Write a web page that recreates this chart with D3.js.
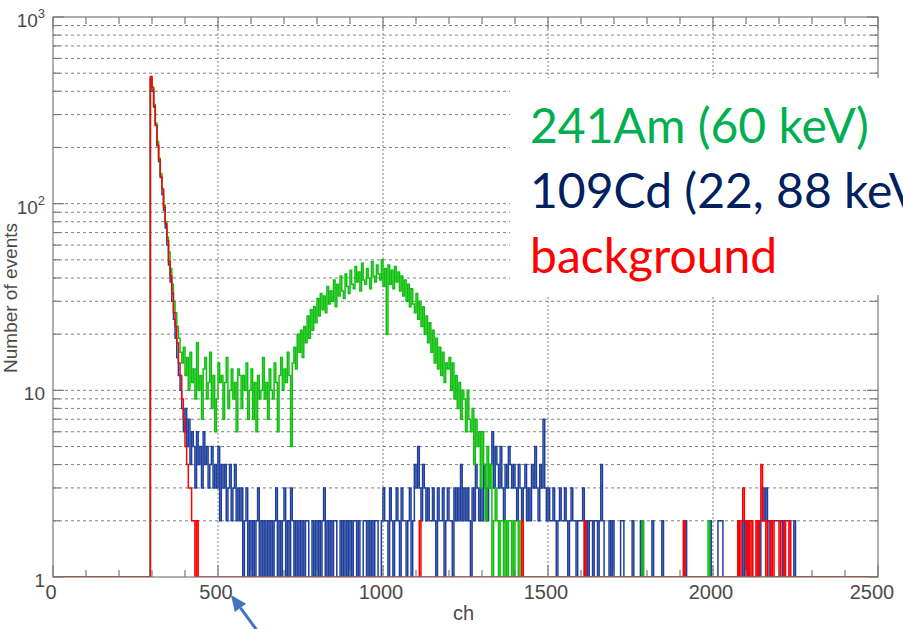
<!DOCTYPE html>
<html>
<head>
<meta charset="utf-8">
<script src="https://cdn.jsdelivr.net/npm/d3@7"></script>
<style>
  html, body { margin: 0; padding: 0; background: #fff; overflow: hidden; }
  svg { display: block; }
</style>
</head>
<body>
<svg id="chart" width="903" height="629"></svg>
<script>
// ---- Spectrum data: counts per 5-channel bin ----
const binWidth = 5;
const chMax = 2500;

// 109Cd source (22, 88 keV), bins from channel 295
const cdStart = 295;
const cdCounts = [
  460,400,330,265,205,168,138,112,92,74,
  60,47,38,30,24,19,15,12,10,8,
  6,8,5,7,4,6,5,3,6,4,
  5,3,6,4,5,3,4,5,3,4,
  3,5,2,4,3,4,2,3,4,2,
  3,4,2,3,2,3,1,2,3,0,
  2,1,2,0,2,3,1,2,0,2,
  1,2,0,2,1,2,3,0,2,1,
  2,3,1,2,0,3,2,1,2,0,
  2,1,2,0,2,2,1,0,2,1,
  2,0,2,1,2,3,1,2,0,2,
  1,2,2,0,1,2,0,2,1,2,
  0,2,1,2,2,0,2,1,0,2,
  2,1,2,0,2,1,2,2,0,1,
  2,3,2,2,1,3,2,0,2,3,
  2,1,3,2,2,0,2,3,1,2,
  4,3,5,3,2,4,3,2,3,2,
  2,3,2,1,3,2,2,3,0,2,
  3,2,2,1,3,2,3,2,4,2,
  3,2,3,2,1,3,2,4,3,2,
  3,2,4,3,2,3,4,6,3,5,
  4,3,5,3,2,4,3,5,4,3,
  4,3,2,4,3,2,3,4,2,3,
  2,4,3,5,3,2,4,3,7,3,
  2,3,2,2,3,2,1,2,3,2,
  2,3,2,1,2,3,2,2,1,2,
  2,2,3,1,2,0,2,2,1,2,
  2,1,2,4,2,0,1,0,2,0,
  2,0,0,1,0,2,2,0,0,1,
  0,0,2,0,1,0,0,2,0,0,
  0,1,0,0,2,0,0,1,0,0,
  2,0,0,0,1,0,0,0,0,0,
  0,1,0,0,2,0,0,0,1,0,
  0,0,0,1,0,0,0,0,0,2,
  0,0,1,0,2,2,2,0,1,0,
  0,0,1,0,0,0,2,0,0,2,
  0,2,0,2,2,0,0,0,2,0,
  2,3,2,3,2,0,2,2,2,2,
  2,2,2,0,2,2,2,2,0,0,
  2,0,0
];

// 241Am source (60 keV), bins from channel 295
const amStart = 295;
const amCounts = [
  470,410,340,270,215,175,145,118,98,80,
  66,55,45,37,30,26,22,19,16,14,
  17,12,15,10,16,11,13,9,18,10,
  12,7,13,15,9,11,16,8,12,6,
  9,14,11,12,7,11,15,8,10,13,
  9,11,6,13,12,8,12,10,14,7,
  10,13,7,11,6,12,9,10,15,9,
  11,7,13,10,9,14,11,6,12,15,
  10,13,11,16,12,5,14,17,13,20,
  16,21,15,22,18,25,19,27,21,28,
  23,31,25,33,27,32,26,36,29,34,
  30,39,28,37,32,41,34,31,42,36,
  33,44,37,35,46,38,43,34,48,39,
  37,45,40,35,49,41,38,47,42,39,
  50,36,45,20,47,37,44,35,46,38,
  43,34,41,32,39,30,37,28,35,29,
  26,33,24,30,22,28,20,25,18,23,
  16,21,14,19,13,17,12,16,11,14,
  13,15,10,14,9,12,8,11,7,10,
  9,6,10,7,6,8,4,7,5,6,
  3,6,4,2,5,3,4,1,2,3,
  2,0,2,2,1,2,0,2,2,0,
  2,0,1,2,0
];
const amExtraCh = [1785, 1985];
const amExtraCounts = [2, 2];

// Background run, bins from channel 295 plus the high-channel cluster
const bgStart = 295;
const bgCounts = [
  480,420,335,262,205,172,140,120,96,78,
  63,49,41,33,26,22,18,14,12,9,
  7,5,4,3,3,2,2,0,2,0,
  1
];
const bgTailStart = 2070;
const bgTailCounts = [
  0,2,0,2,3,2,0,2,0,2,
  0,0,2,0,2,4,2,2,0,2,
  2,0,2,0,0,0,2,0,0,2,
  0,0,2,0,0,0
];
const bgExtraCh = [1110, 1420, 1610, 1910];
const bgExtraCounts = [2, 2, 2, 2];

// Axis labelling
const xTickLabels = [0, 500, 1000, 1500, 2000, 2500];
const yDecades = [1, 10, 100, 1000];
const legendLabels = ["241Am (60 keV)", "109Cd (22, 88 keV)", "background"];
const legendColors = ["#00b050", "#002060", "#ff0000"];

// ---- Scales ----
const plot = { left: 53, right: 878, top: 17, bottom: 577 };
const x = d3.scaleLinear().domain([0, chMax]).range([plot.left, plot.right]);
const y = d3.scaleLog().domain([1, 1000]).range([plot.bottom, plot.top]);

const svg = d3.select("#chart");

// full histogram from segments of [startChannel, counts]
function histogram(segments) {
  const bins = d3.range(0, chMax, binWidth).map(ch => ({ ch, n: 0 }));
  segments.forEach(([start, counts]) => {
    counts.forEach((n, i) => {
      const k = Math.round(start / binWidth) + i;
      if (k >= 0 && k < bins.length) bins[k].n = n;
    });
  });
  return bins;
}
const extras = (chs, vals) => chs.map((c, i) => [c, [vals[i]]]);

const cdBins = histogram([[cdStart, cdCounts]]);
const amBins = histogram([[amStart, amCounts], ...extras(amExtraCh, amExtraCounts)]);
const bgBins = histogram([[bgStart, bgCounts], [bgTailStart, bgTailCounts], ...extras(bgExtraCh, bgExtraCounts)]);

// ---- Grid ----
const yTickVals = y.ticks().filter(v => v > 1 && v < 1000);
const grid = svg.append("g");
grid.selectAll("line.h").data(yTickVals).join("line")
  .attr("x1", plot.left).attr("x2", plot.right)
  .attr("y1", d => y(d)).attr("y2", d => y(d))
  .attr("stroke", "#808080").attr("stroke-width", 1)
  .attr("stroke-dasharray", "3,3");
grid.selectAll("line.v").data(xTickLabels.filter(v => v > 0 && v < chMax)).join("line")
  .attr("x1", d => x(d)).attr("x2", d => x(d))
  .attr("y1", plot.top).attr("y2", plot.bottom)
  .attr("stroke", "#808080").attr("stroke-width", 1)
  .attr("stroke-dasharray", "2,2");

// ---- Histograms ----
svg.append("clipPath").attr("id", "plotClip").append("rect")
  .attr("x", plot.left).attr("y", plot.top)
  .attr("width", plot.right - plot.left).attr("height", plot.bottom - plot.top);

const yVal = n => (n >= 1 ? y(n) : y(1));
const step = d3.line().curve(d3.curveStepAfter);
function histPath(bins) {
  const pts = bins.map(b => [x(b.ch), yVal(b.n)]);
  pts.unshift([x(0), y(1)]);
  pts.push([x(chMax), yVal(bins[bins.length - 1].n)]);
  return step(pts);
}
const hists = svg.append("g").attr("clip-path", "url(#plotClip)");
[[cdBins, "#1f3f9c"], [amBins, "#10c010"], [bgBins, "#ff0000"]].forEach(([bins, color]) => {
  hists.append("path").attr("d", histPath(bins))
    .attr("fill", "none").attr("stroke", color).attr("stroke-width", 1.5)
    .attr("stroke-linejoin", "miter");
});

// ---- Frame and ticks ----
const axisColor = "#7a7a7a";
svg.append("rect")
  .attr("x", plot.left).attr("y", plot.top)
  .attr("width", plot.right - plot.left).attr("height", plot.bottom - plot.top)
  .attr("fill", "none").attr("stroke", axisColor).attr("stroke-width", 1.2);

const xMinor = d3.range(0, chMax + 1, 100);
const ticks = svg.append("g").attr("stroke", axisColor).attr("stroke-width", 1.2);
xMinor.forEach(v => {
  const len = v % 500 === 0 ? 12 : 7;
  ticks.append("line").attr("x1", x(v)).attr("x2", x(v)).attr("y1", plot.bottom).attr("y2", plot.bottom - len);
  ticks.append("line").attr("x1", x(v)).attr("x2", x(v)).attr("y1", plot.top).attr("y2", plot.top + len);
});
y.ticks().forEach(v => {
  const major = yDecades.includes(v);
  const len = major ? 11 : 7;
  ticks.append("line").attr("x1", plot.left).attr("x2", plot.left + len).attr("y1", y(v)).attr("y2", y(v));
  ticks.append("line").attr("x1", plot.right).attr("x2", plot.right - len).attr("y1", y(v)).attr("y2", y(v));
});

// ---- Tick labels ----
const labelFont = "'Liberation Sans', Arial, Helvetica, sans-serif";
const labelColor = "#4a4a4a";
svg.append("g").selectAll("text").data(xTickLabels).join("text")
  .attr("x", d => x(d) - (d === chMax ? 6 : 2))
  .attr("y", plot.bottom + 22)
  .attr("text-anchor", "middle")
  .attr("font-family", labelFont).attr("font-size", 20).attr("fill", labelColor)
  .text(d => d);

const yl = svg.append("g").attr("font-family", labelFont).attr("fill", labelColor);
yDecades.forEach(v => {
  const exp = Math.round(Math.log10(v));
  const t = yl.append("text")
    .attr("x", 45).attr("y", y(v) + 10)
    .attr("text-anchor", "end").attr("font-size", 19);
  if (exp <= 1) {
    t.text(v);
  } else {
    t.append("tspan").text("10");
    t.append("tspan").attr("font-size", 13).attr("dy", -9).text(exp);
  }
});

// axis titles
svg.append("text")
  .attr("transform", "translate(17," + 298 + ") rotate(-90)")
  .attr("text-anchor", "middle")
  .attr("font-family", labelFont).attr("font-size", 19).attr("fill", labelColor)
  .text("Number of events");
svg.append("text")
  .attr("x", 453).attr("y", 620)
  .attr("font-family", labelFont).attr("font-size", 20).attr("fill", labelColor)
  .text("ch");

// ---- Legend block ----
svg.append("rect")
  .attr("x", 510).attr("y", 78).attr("width", 393).attr("height", 217)
  .attr("fill", "#ffffff");
svg.append("g").selectAll("text").data(legendLabels).join("text")
  .attr("x", 530)
  .attr("y", (d, i) => 143 + i * 65)
  .attr("font-family", "Lato, 'Open Sans', sans-serif")
  .attr("font-size", 48)
  .attr("fill", (d, i) => legendColors[i])
  .text(d => d);

// ---- Pointer arrow below the 500 label ----
const tip = [231, 595], tail = [264, 640];
const ang = Math.atan2(tail[1] - tip[1], tail[0] - tip[0]);
const headLen = 16, headHalf = 7;
const base = [tip[0] + headLen * Math.cos(ang), tip[1] + headLen * Math.sin(ang)];
const nx = -Math.sin(ang), ny = Math.cos(ang);
svg.append("line")
  .attr("x1", tail[0]).attr("y1", tail[1]).attr("x2", base[0]).attr("y2", base[1])
  .attr("stroke", "#4472c4").attr("stroke-width", 3);
svg.append("path")
  .attr("d", `M${tip[0]},${tip[1]}L${base[0] + nx * headHalf},${base[1] + ny * headHalf}L${base[0] - nx * headHalf},${base[1] - ny * headHalf}Z`)
  .attr("fill", "#4472c4");
</script>
</body>
</html>
